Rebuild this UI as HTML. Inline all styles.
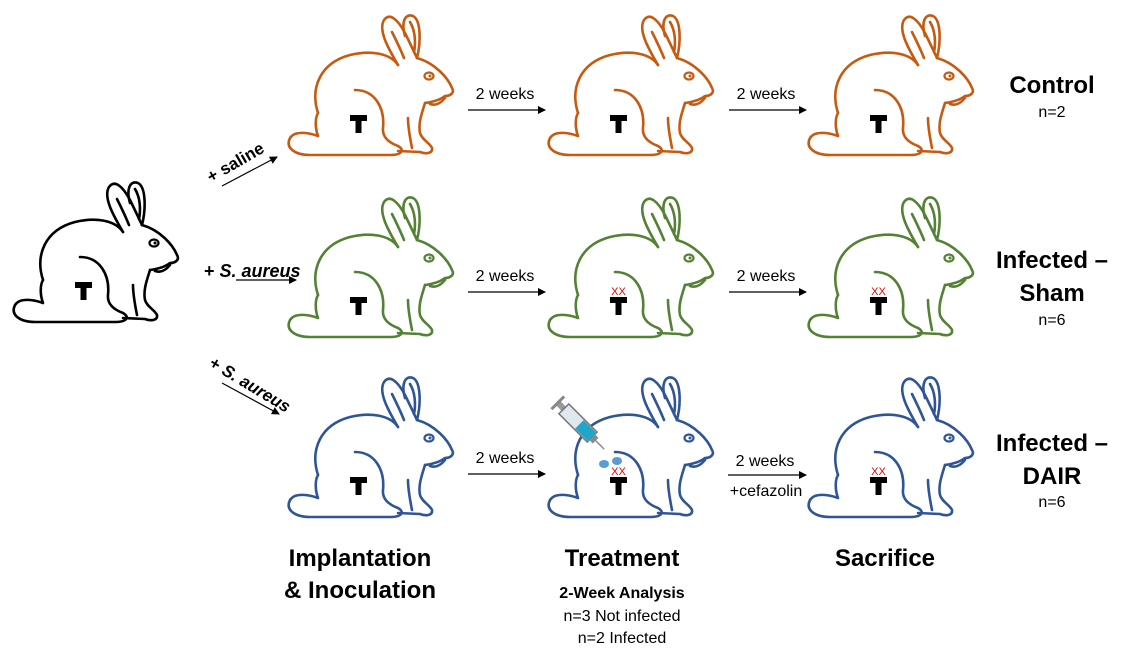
<!DOCTYPE html>
<html><head><meta charset="utf-8"><style>
html,body{margin:0;padding:0;background:#fff;}
body{width:1126px;height:654px;overflow:hidden;position:relative;font-family:"Liberation Sans",Arial,sans-serif;}
</style></head><body>
<svg width="1126" height="654" viewBox="0 0 1126 654" xmlns="http://www.w3.org/2000/svg" font-family="Liberation Sans, Arial, sans-serif">
<defs>
<marker id="ah" markerWidth="8" markerHeight="8" refX="7" refY="4" orient="auto" markerUnits="userSpaceOnUse"><path d="M0,0 L8,4 L0,8 z" fill="#000"/></marker>
<g id="rab" fill="none" stroke-width="2.6" stroke-linecap="round" stroke-linejoin="round">
<path d="M38,105 C30,80 40,55 70,47 C90,42 110,45 118,57"/>
<path d="M118,57 C108,40 98,22 104,12 C110,4 118,12 125,25 C130,35 134,44 137,50"/>
<path d="M112,24 C116,32 120,40 124,50"/>
<path d="M125,28 C121,14 125,5 133,8 C141,12 141,34 137,50"/>
<path d="M130,14 C135,22 136,34 134,44"/>
<path d="M137,50 C155,55 168,70 172,80 C175,85 170,88 165,88 C160,92 152,94 145,95"/>
<path d="M150,96 C156,98 161,95 165,90"/>
<path d="M145,95 C142,105 138,115 140,125 C142,132 150,135 152,140 C153,146 145,146 140,144 L118,143"/>
<path d="M128,110 C128,120 130,130 132,140"/>
<path d="M75,82 C95,82 105,100 103,120 C102,130 110,135 118,138 C125,142 122,147 110,147 L30,147 C15,147 5,140 10,130 C15,122 30,125 38,128 C35,120 35,110 38,105"/>
<ellipse cx="149" cy="68" rx="4.5" ry="3.5" stroke-width="2.2"/>
<circle cx="150" cy="68" r="1.5" fill="currentColor" stroke="none"/>
</g>
<g id="T"><rect x="70" y="107" width="17" height="6" fill="#000"/><rect x="75.5" y="107" width="6" height="18" fill="#000"/></g>
<g id="XX"><text x="78.5" y="105" font-size="11" fill="#e00" text-anchor="middle">XX</text></g>
</defs>

<g transform="translate(5,175)"><use href="#rab" stroke="#000" color="#000"/><use href="#T"/></g>

<g transform="translate(280,8)"><use href="#rab" stroke="#c55a11" color="#c55a11"/><use href="#T"/></g>
<g transform="translate(540,8)"><use href="#rab" stroke="#c55a11" color="#c55a11"/><use href="#T"/></g>
<g transform="translate(800,8)"><use href="#rab" stroke="#c55a11" color="#c55a11"/><use href="#T"/></g>

<g transform="translate(280,190)"><use href="#rab" stroke="#548235" color="#548235"/><use href="#T"/></g>
<g transform="translate(540,190)"><use href="#rab" stroke="#548235" color="#548235"/><use href="#T"/><use href="#XX"/></g>
<g transform="translate(800,190)"><use href="#rab" stroke="#548235" color="#548235"/><use href="#T"/><use href="#XX"/></g>

<g transform="translate(280,370)"><use href="#rab" stroke="#2f5597" color="#2f5597"/><use href="#T"/></g>
<g transform="translate(540,370)"><use href="#rab" stroke="#2f5597" color="#2f5597"/><use href="#T"/><use href="#XX"/></g>
<g transform="translate(800,370)"><use href="#rab" stroke="#2f5597" color="#2f5597"/><use href="#T"/><use href="#XX"/></g>

<g transform="translate(590,435) rotate(45)">
<rect x="-45" y="-3" width="8" height="6" fill="#999"/>
<rect x="-47" y="-9" width="3" height="18" fill="#888"/>
<rect x="-37" y="-7" width="40" height="14" fill="#dfe8ee" stroke="#777" stroke-width="1.5"/>
<rect x="-15" y="-6" width="18" height="12" fill="#1fa6c9"/>
<rect x="3" y="-4" width="5" height="8" fill="#888"/>
<line x1="8" y1="0" x2="20" y2="0" stroke="#888" stroke-width="1.5"/>
</g>
<ellipse cx="604" cy="464" rx="5" ry="4" fill="#5b9bd5"/>
<ellipse cx="617" cy="461" rx="5" ry="4" fill="#5b9bd5"/>

<text transform="translate(211,183) rotate(-30)" font-size="17" font-weight="bold">+ saline</text>
<line x1="222" y1="186" x2="277" y2="157" stroke="#000" stroke-width="1.2" marker-end="url(#ah)"/>
<text x="204" y="277" font-size="18" font-weight="bold">+ <tspan font-style="italic">S. aureus</tspan></text>
<line x1="236" y1="280" x2="296" y2="280" stroke="#000" stroke-width="1.2" marker-end="url(#ah)"/>
<text transform="translate(208,366) rotate(31)" font-size="17" font-weight="bold">+ <tspan font-style="italic">S. aureus</tspan></text>
<line x1="222" y1="383" x2="279" y2="414" stroke="#000" stroke-width="1.2" marker-end="url(#ah)"/>

<g font-size="16">
<text x="505" y="99" text-anchor="middle">2 weeks</text>
<line x1="468" y1="110" x2="545" y2="110" stroke="#000" stroke-width="1.2" marker-end="url(#ah)"/>
<text x="766" y="99" text-anchor="middle">2 weeks</text>
<line x1="729" y1="110" x2="806" y2="110" stroke="#000" stroke-width="1.2" marker-end="url(#ah)"/>
<text x="505" y="281" text-anchor="middle">2 weeks</text>
<line x1="468" y1="292" x2="545" y2="292" stroke="#000" stroke-width="1.2" marker-end="url(#ah)"/>
<text x="766" y="281" text-anchor="middle">2 weeks</text>
<line x1="729" y1="292" x2="806" y2="292" stroke="#000" stroke-width="1.2" marker-end="url(#ah)"/>
<text x="505" y="463" text-anchor="middle">2 weeks</text>
<line x1="468" y1="474" x2="545" y2="474" stroke="#000" stroke-width="1.2" marker-end="url(#ah)"/>
<text x="765" y="466" text-anchor="middle">2 weeks</text>
<line x1="728" y1="475" x2="806" y2="475" stroke="#000" stroke-width="1.2" marker-end="url(#ah)"/>
<text x="766" y="496" text-anchor="middle">+cefazolin</text>
</g>

<g text-anchor="middle">
<text x="1052" y="93" font-size="24" font-weight="bold">Control</text>
<text x="1052" y="117" font-size="16">n=2</text>
<text x="1052" y="268" font-size="24" font-weight="bold">Infected –</text>
<text x="1052" y="301" font-size="24" font-weight="bold">Sham</text>
<text x="1052" y="325" font-size="16">n=6</text>
<text x="1052" y="451" font-size="24" font-weight="bold">Infected –</text>
<text x="1052" y="484" font-size="24" font-weight="bold">DAIR</text>
<text x="1052" y="507" font-size="16">n=6</text>

<text x="360" y="566" font-size="24" font-weight="bold">Implantation</text>
<text x="360" y="598" font-size="24" font-weight="bold">&amp; Inoculation</text>
<text x="622" y="566" font-size="24" font-weight="bold">Treatment</text>
<text x="622" y="598" font-size="16" font-weight="bold">2-Week Analysis</text>
<text x="622" y="621" font-size="16">n=3 Not infected</text>
<text x="622" y="643" font-size="16">n=2 Infected</text>
<text x="885" y="566" font-size="24" font-weight="bold">Sacrifice</text>
</g>
</svg>
</body></html>
